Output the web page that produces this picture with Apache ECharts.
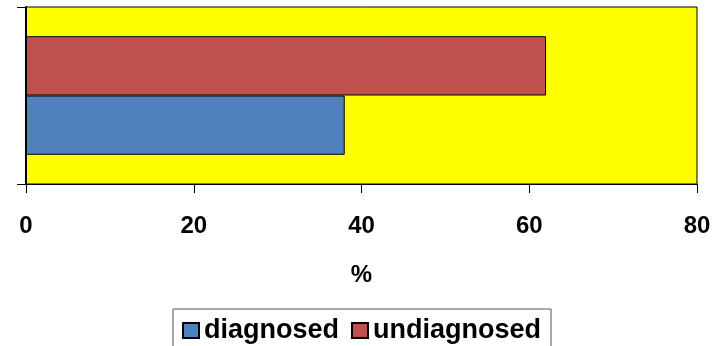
<!DOCTYPE html>
<html>
<head>
<meta charset="utf-8">
<script src="https://cdn.jsdelivr.net/npm/echarts@6/dist/echarts.min.js"></script>
<style>
  html, body { margin: 0; padding: 0; background: #ffffff; }
  #chart { width: 720px; height: 346px; }
</style>
</head>
<body>
<div id="chart"></div>
<script>
// Share of cases, in percent
const categories = [''];
const seriesNames = ['diagnosed', 'undiagnosed'];
const diagnosed = [38];
const undiagnosed = [62];
const xTicks = { min: 0, max: 80, interval: 20 };

const chart = echarts.init(document.getElementById('chart'), null, { renderer: 'canvas' });

const font = '"Liberation Sans", Arial, sans-serif';

// Bars within a category stack top-down in series order, so the
// "undiagnosed" bar is listed first to sit above "diagnosed".
chart.setOption({
  animation: false,
  backgroundColor: '#ffffff',
  grid: {
    left: 26, right: 23, top: 7, bottom: 162,
    show: true,
    backgroundColor: '#ffff00',
    borderColor: '#000000',
    borderWidth: 1
  },
  legend: {
    data: seriesNames,
    top: 309,
    left: 173,
    padding: [8, 10, 14, 9],
    borderColor: '#555555',
    borderWidth: 1,
    itemGap: 12,
    itemWidth: 16,
    itemHeight: 15,
    icon: 'rect',
    textStyle: { fontFamily: font, fontWeight: 'bold', fontSize: 27, color: '#000000' }
  },
  xAxis: {
    type: 'value',
    min: xTicks.min, max: xTicks.max, interval: xTicks.interval,
    name: '%',
    nameLocation: 'middle',
    nameGap: 79,
    nameTextStyle: { fontFamily: font, fontWeight: 'bold', fontSize: 24, color: '#000000' },
    axisLine: { show: true, lineStyle: { color: '#000000', width: 1 } },
    axisTick: { show: true, length: 9, lineStyle: { color: '#000000' } },
    axisLabel: { fontFamily: font, fontWeight: 'bold', fontSize: 24, color: '#000000', margin: 30 },
    splitLine: { show: false }
  },
  yAxis: {
    type: 'category',
    data: categories,
    axisLine: { show: true, lineStyle: { color: '#000000', width: 2 } },
    axisTick: { show: true, length: 9, lineStyle: { color: '#000000' } },
    axisLabel: { show: false }
  },
  series: [
    {
      name: seriesNames[1],
      type: 'bar',
      data: undiagnosed,
      barCategoryGap: '33%',
      barGap: '0%',
      itemStyle: { color: '#c0504d', borderColor: '#000000', borderWidth: 1 }
    },
    {
      name: seriesNames[0],
      type: 'bar',
      data: diagnosed,
      barCategoryGap: '33%',
      barGap: '0%',
      itemStyle: { color: '#4f81bd', borderColor: '#000000', borderWidth: 1 }
    }
  ]
});
</script>
</body>
</html>
